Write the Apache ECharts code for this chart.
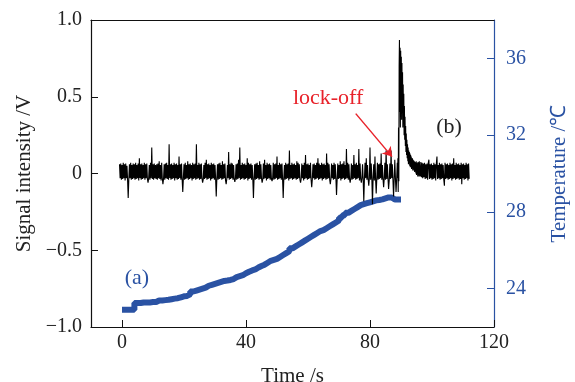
<!DOCTYPE html>
<html><head><meta charset="utf-8">
<script src="https://cdn.jsdelivr.net/npm/echarts@6/dist/echarts.min.js"></script>
<style>html,body{margin:0;padding:0;background:#fff}#c{width:575px;height:382px}</style>
</head><body><div id="c"></div>
<script>
// Signal (b), part 1: from t = -0.8 s every 0.2 s (V)
const preStart = -0.8, preStep = 0.2;
const signalPre = [
0.06,-0.03,0.065,-0.04,0.055,-0.035,0.07,-0.03,0.06,-0.045,0.065,-0.03,0.05,-0.04,-0.16,-0.035,0.06,-0.03,0.07,-0.04,
0.055,-0.035,0.065,-0.03,0.06,-0.04,0.07,-0.035,0.055,-0.03,0.065,-0.045,0.1,-0.03,0.06,-0.04,0.065,-0.035,0.055,-0.03,
0.07,-0.04,0.06,-0.03,0.065,-0.035,-0.06,-0.03,0.055,-0.04,0.07,-0.03,0.17,-0.035,0.06,-0.04,0.065,-0.03,0.055,-0.035,
0.06,-0.04,0.065,-0.03,0.08,-0.035,0.055,-0.045,0.07,-0.03,-0.07,-0.035,0.06,-0.04,0.065,-0.03,0.07,-0.035,0.055,-0.04,
0.19,-0.03,0.06,-0.04,0.065,-0.035,0.055,-0.03,0.07,-0.045,0.06,-0.03,0.065,-0.04,0.055,-0.035,0.11,-0.03,0.06,-0.04,
0.065,-0.035,-0.12,-0.03,0.06,-0.04,0.07,-0.035,0.055,-0.03,0.08,-0.04,0.06,-0.035,0.065,-0.03,0.055,-0.045,0.07,-0.035,
0.06,-0.03,0.065,-0.04,0.19,-0.035,0.055,-0.03,0.07,-0.04,0.06,-0.035,0.065,-0.03,-0.06,-0.04,0.055,-0.035,0.07,-0.03,
0.09,-0.04,0.06,-0.035,0.065,-0.03,0.055,-0.045,0.07,-0.035,0.06,-0.03,0.065,-0.04,0.055,-0.035,-0.15,-0.03,0.06,-0.04,
0.065,-0.035,0.07,-0.03,0.055,-0.04,0.08,-0.035,0.06,-0.03,0.065,-0.045,-0.07,-0.035,0.055,-0.03,0.14,-0.04,0.06,-0.035,
0.07,-0.03,0.065,-0.04,0.055,-0.035,-0.055,-0.03,0.06,-0.04,0.065,-0.035,0.09,-0.03,0.17,-0.04,0.055,-0.035,0.07,-0.03,
0.06,-0.04,0.065,-0.035,0.055,-0.03,0.1,-0.045,0.07,-0.035,0.06,-0.03,0.065,-0.04,0.055,-0.035,-0.16,-0.03,0.06,-0.04,
0.065,-0.035,0.07,-0.03,0.055,-0.04,0.08,-0.035,0.06,-0.03,-0.06,-0.04,0.065,-0.035,0.09,-0.03,0.055,-0.045,0.07,-0.035,
0.06,-0.03,0.065,-0.04,0.055,-0.035,-0.05,-0.03,0.07,-0.04,0.06,-0.035,0.065,-0.03,0.11,-0.04,0.055,-0.035,0.07,-0.03,
0.06,-0.04,0.065,-0.035,-0.16,-0.03,0.055,-0.04,0.07,-0.035,0.06,-0.03,0.065,-0.045,0.15,-0.035,0.055,-0.03,0.07,-0.04,
0.06,-0.035,0.065,-0.03,0.055,-0.04,0.08,-0.035,0.07,-0.03,0.06,-0.04,-0.06,-0.035,0.065,-0.03,0.055,-0.045,0.07,-0.035,
0.12,-0.03,0.06,-0.04,0.065,-0.035,0.055,-0.03,0.07,-0.04,-0.09,-0.035,0.06,-0.03,0.065,-0.04,0.055,-0.035,0.07,-0.03,
0.1,-0.04,0.065,-0.035,0.055,-0.03,0.07,-0.045,0.06,-0.035,0.065,-0.03,0.055,-0.04,0.13,-0.035,0.07,-0.03,0.06,-0.04,
-0.07,-0.035,0.065,-0.03,0.055,-0.04,0.07,-0.035,0.06,-0.03,-0.14,-0.04,0.065,-0.035,0.055,-0.03,0.08,-0.045,0.06,-0.035,
0.065,-0.03,0.08,-0.04,0.055,-0.035,0.16,-0.03,0.07,-0.04,0.06,-0.035,-0.06,-0.03,0.065,-0.04,0.055,-0.035,0.12,-0.03,
0.06,-0.04,0.07,-0.035,0.055,-0.03,0.16,-0.045,0.065,-0.035,-0.06,-0.03,0.06,-0.04,-0.18,-0.035,0.07,-0.03,0.1,-0.04,
0.055,-0.035,-0.08,-0.03,0.17,-0.04,0.065,-0.035,-0.2,-0.03,0.06,-0.045,0.11,-0.035,-0.13,-0.03,0.07,-0.04,0.06,-0.035,
0.065,-0.03,0.13,-0.04,0.055,-0.035,-0.09,-0.03,0.07,-0.04,0.15,-0.035,0.06,-0.03,-0.1,-0.045,0.065,-0.035,0.15,-0.03,
0.06,-0.04,-0.15,-0.035,0.09,-0.03,-0.12,-0.04
];
// Signal (b), part 2 (lock-off transient): from t = 88.8 s every 0.1 s (V)
const peakStart = 88.8, peakStep = 0.1;
const signalPeak = [
0.07,-0.03,0.1,-0.12,0.3,-0.05,0.7,0.87,0.4,0.82,0.3,0.8,
0.45,0.76,0.35,0.72,0.4,0.66,0.3,0.58,0.35,0.52,
0.25,0.44,0.22,0.37,0.18,0.31,0.14,0.26,0.12,0.22,
0.1,0.19,0.08,0.17,0.06,0.15,0.07,0.14,0.05,0.13,
0.04,0.12,0.05,0.11,0.03,0.1,0.04,0.1,0.02,0.09,
0.03,0.085,0.02,0.08,0.01,0.075,0.02,0.07,0.0,0.08,
-0.01,0.07,0.0,0.065,-0.02,0.075,-0.01,0.07,-0.02,0.08
];
// Signal (b), part 3: from t = 96.0 s every 0.2 s (V)
const postStart = 96.0, postStep = 0.2;
const signalPost = [
0.08,-0.02,0.075,-0.025,0.07,-0.03,0.065,-0.025,0.07,-0.035,0.06,-0.03,0.065,-0.04,0.07,0.09,-0.035,0.06,-0.03,0.065,
-0.04,0.055,-0.035,0.07,-0.03,0.06,-0.045,0.065,0.11,-0.035,0.055,-0.03,0.07,-0.04,0.06,-0.035,0.065,-0.03,0.055,-0.04,
-0.08,0.07,-0.035,0.06,-0.03,0.065,-0.04,0.055,-0.035,0.07,-0.03,0.06,-0.045,0.065,-0.035,0.1,-0.03,0.055,-0.04,0.07,
-0.035,0.06,-0.03,0.065,-0.04,0.055,-0.035,0.07,-0.07,0.06,-0.03,0.065,-0.04,0.055,-0.035,0.07,-0.03,0.06,-0.045,0.065,
-0.035
];
// Temperature (a): one reading per second from t = 0 s (°C)
const tempStart = 0, tempStep = 1;
const temperature = [
22.9,22.9,22.9,22.9,23.25,23.25,23.28,23.28,23.28,23.3,
23.3,23.38,23.38,23.4,23.42,23.45,23.48,23.5,23.55,23.6,
23.62,23.7,23.85,23.9,23.95,24.0,24.05,24.15,24.2,24.25,
24.3,24.35,24.4,24.42,24.45,24.5,24.6,24.65,24.7,24.8,
24.88,24.95,25.0,25.1,25.18,25.25,25.35,25.45,25.5,25.55,
25.65,25.75,25.85,25.95,26.1,26.2,26.3,26.4,26.5,26.6,
26.7,26.8,26.9,27.0,27.05,27.15,27.25,27.35,27.45,27.55,
27.7,27.82,27.95,28.05,28.15,28.25,28.35,28.4,28.45,28.5,
28.55,28.6,28.62,28.65,28.7,28.75,28.75,28.65,28.65,28.65,28.65
];
const xTicks = [0, 40, 80, 120];
const yRightTicks = [24, 28, 32, 36];

const BLUE = '#2a52a3', RED = '#e8222a';
const FONT = 'Liberation Serif';
const chart = echarts.init(document.getElementById('c'));
const toPairs = (arr, t0, dt) => arr.map((v, i) => [+(t0 + i * dt).toFixed(2), v]);
const sigData = toPairs(signalPre, preStart, preStep)
  .concat(toPairs(signalPeak, peakStart, peakStep))
  .concat(toPairs(signalPost, postStart, postStep));
const tData = toPairs(temperature, tempStart, tempStep);
const fmtL = v => v === 0 ? '0' : (v < 0 ? '\u2212' : '') + Math.abs(v).toFixed(1);

chart.setOption({
  animation: false,
  grid: { left: 91, right: 81, top: 20, bottom: 55, outerBoundsMode: 'none', containLabel: false },
  xAxis: [{
    type: 'value', min: -10, max: 120,
    name: 'Time /s', nameLocation: 'middle', nameGap: 39,
    nameTextStyle: { fontFamily: FONT, fontSize: 21, color: '#222' },
    axisLine: { onZero: false, lineStyle: { color: '#111', width: 1.2 } },
    axisTick: { inside: true, length: 7, customValues: xTicks, lineStyle: { color: '#111' } },
    axisLabel: { customValues: xTicks, margin: 6, fontFamily: FONT, fontSize: 20, color: '#222' },
    splitLine: { show: false }
  }, {
    type: 'value', min: -10, max: 120, position: 'top',
    axisLine: { show: true, onZero: false, lineStyle: { color: '#111', width: 1.2 } },
    axisTick: { show: false }, axisLabel: { show: false }, splitLine: { show: false }
  }],
  yAxis: [{
    type: 'value', min: -1, max: 1, interval: 0.5, position: 'left',
    name: 'Signal intensity /V', nameLocation: 'middle', nameGap: 53,
    nameTextStyle: { fontFamily: FONT, fontSize: 21, color: '#222' },
    axisLine: { show: true, onZero: false, lineStyle: { color: '#111', width: 1.2 } },
    axisTick: { inside: true, length: 7, lineStyle: { color: '#111' } },
    axisLabel: { formatter: fmtL, margin: 9, fontFamily: FONT, fontSize: 20, color: '#222' },
    splitLine: { show: false }
  }, {
    type: 'value', min: 22, max: 38, position: 'right',
    name: 'Temperature /\u2103', nameLocation: 'middle', nameGap: 55,
    nameTextStyle: { fontFamily: FONT, fontSize: 21, color: BLUE },
    axisLine: { show: true, onZero: false, lineStyle: { color: BLUE, width: 1.2 } },
    axisTick: { inside: true, length: 7, customValues: yRightTicks, lineStyle: { color: BLUE } },
    axisLabel: { customValues: yRightTicks, margin: 12, fontFamily: FONT, fontSize: 20, color: BLUE },
    splitLine: { show: false }
  }],
  series: [{
    type: 'line', xAxisIndex: 0, yAxisIndex: 1, data: tData, step: 'end',
    showSymbol: false, lineStyle: { color: BLUE, width: 6, cap: 'butt', join: 'bevel' }, z: 2
  }, {
    type: 'line', xAxisIndex: 0, yAxisIndex: 0, data: sigData,
    showSymbol: false, lineStyle: { color: '#000', width: 1.1 }, z: 3,
    markLine: {
      silent: true, symbol: ['none', 'arrow'], symbolSize: 9,
      lineStyle: { color: RED, width: 1.5, type: 'solid' }, label: { show: false },
      data: [[{ coord: [75.4, 0.39] }, { coord: [87.1, 0.11] }]]
    }
  }]
});

function place() {
  const pA = chart.convertToPixel({ xAxisIndex: 0, yAxisIndex: 0 }, [4.8, -0.68]);
  const pB = chart.convertToPixel({ xAxisIndex: 0, yAxisIndex: 0 }, [105.5, 0.3]);
  const pL = chart.convertToPixel({ xAxisIndex: 0, yAxisIndex: 0 }, [66.5, 0.49]);
  const ts = (c) => ({ fontFamily: FONT, fontSize: 22, fill: c, align: 'center', verticalAlign: 'middle' });
  chart.setOption({ graphic: [
    { type: 'text', x: pA[0], y: pA[1], style: Object.assign({ text: '(a)' }, ts(BLUE)) },
    { type: 'text', x: pB[0], y: pB[1], style: Object.assign({ text: '(b)' }, ts('#222')) },
    { type: 'text', x: pL[0], y: pL[1], style: Object.assign({ text: 'lock-off' }, ts(RED)) }
  ]});
}
place();
</script></body></html>
